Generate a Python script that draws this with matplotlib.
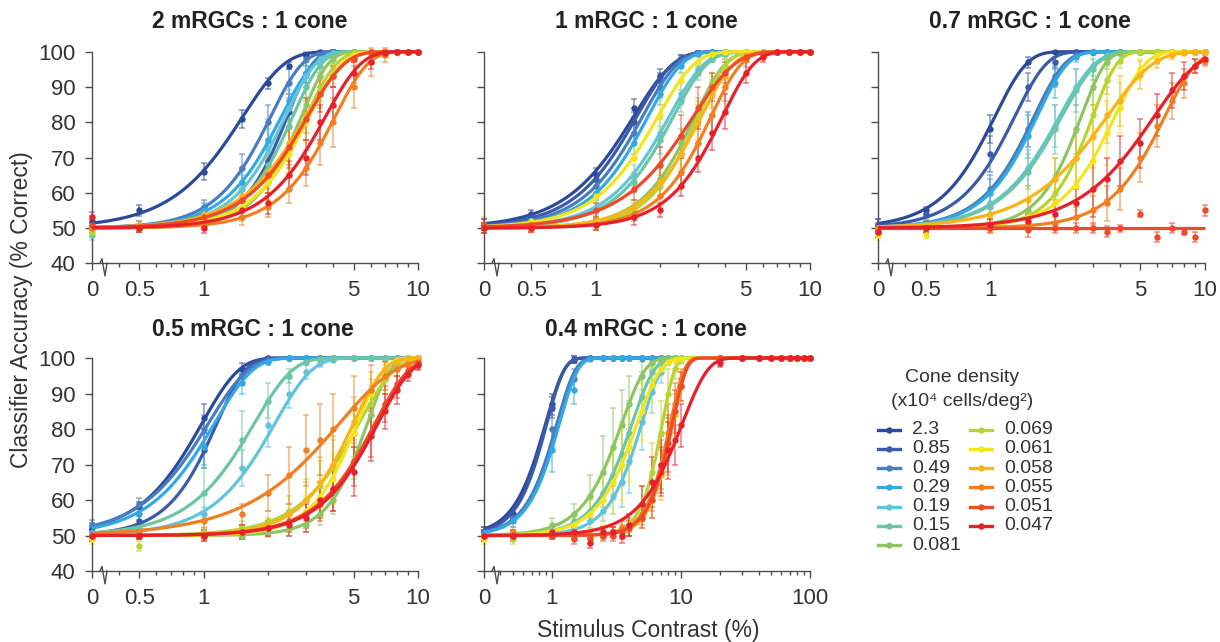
import numpy as np
import matplotlib
matplotlib.use("Agg")
import matplotlib.pyplot as plt
from matplotlib.lines import Line2D
from matplotlib.ticker import FixedLocator, FixedFormatter, LogLocator, NullFormatter

plt.rcParams['font.family'] = ['Liberation Sans', 'DejaVu Sans']

# ---------------- data ----------------
densities = ['2.3', '0.85', '0.49', '0.29', '0.19', '0.15', '0.081',
             '0.069', '0.061', '0.058', '0.055', '0.051', '0.047']
colors = ['#2c4a9a', '#3a5ba9', '#4a7cc1', '#33a9e1', '#62c4dc', '#6cc5a4', '#8dc663',
          '#b8d433', '#f3e51c', '#f9b418', '#f07f22', '#ec4a2a', '#e6212a']
titles = ['2 mRGCs : 1 cone', '1 mRGC : 1 cone', '0.7 mRGC : 1 cone',
          '0.5 mRGC : 1 cone', '0.4 mRGC : 1 cone']

contrast_lo = [0, 0.5, 1, 1.5, 2, 2.5, 3, 3.5, 4, 5, 6, 7, 8, 9, 10]
contrast_hi = [0, 0.5, 1, 1.5, 2, 2.5, 3, 3.5, 4, 5, 6, 7, 8, 9, 10,
               20, 30, 40, 50, 60, 70, 80, 90, 100]
xticks_lo = [0, 0.5, 1, 5, 10]
xticks_hi = [0, 1, 10, 100]
yticks = [40, 50, 60, 70, 80, 90, 100]

# Weibull fit parameters (threshold, slope) per panel, series order = densities
p1_alpha = [1.52, 2.45, 2.05, 2.3, 2.4, 2.6, 2.85, 3.0, 3.1, 3.0, 4.1, 3.05, 3.7]
p1_beta = [2.2, 3.6, 2.9, 2.8, 3.0, 3.2, 3.4, 3.0, 2.8, 2.4, 2.8, 2.5, 2.6]
p2_alpha = [1.5, 1.55, 1.65, 1.75, 2.2, 2.3, 2.9, 3.0, 1.95, 3.1, 3.45, 2.85, 3.9]
p2_beta = [2.3, 2.5, 2.6, 2.7, 2.6, 2.7, 3.0, 3.2, 2.5, 2.8, 3.0, 2.2, 2.9]
p3_alpha = [1.05, 1.3, 1.6, 1.65, 2.1, 2.15, 2.65, 3.0, 3.8, 3.5, 6.5, np.inf, 5.8]
p3_beta = [2.9, 2.9, 3.0, 3.0, 2.6, 2.6, 3.8, 3.8, 3.0, 2.0, 2.9, 3.0, 2.1]
p4_alpha = [0.98, 1.15, 1.05, 1.12, 2.15, 1.72, 5.8, 5.3, 5.2, 5.0, 4.3, 6.3, 6.5]
p4_beta = [2.5, 3.2, 2.3, 2.4, 2.5, 2.4, 4.0, 2.6, 3.5, 3.0, 1.65, 2.7, 2.7]
p5_alpha = [0.9, 0.92, 1.1, 1.15, 5.0, 4.2, 3.5, 7.2, 4.6, 8.7, 8.3, 8.6, 10.3]
p5_beta = [3.0, 3.2, 3.0, 3.0, 2.8, 2.5, 2.4, 4.5, 2.4, 4.2, 4.0, 4.0, 2.2]

# Classifier accuracy (% correct) at each contrast level
p1_acc = [
    [52, 55, 66, 81, 91, 96, 99, 100, 100, 100, 100, 100, 100, 100, 100],
    [50, 50, 52, 58, 69, 83, 94, 99, 100, 100, 100, 100, 100, 100, 100],
    [50, 51, 56, 67, 80, 91, 98, 99, 100, 100, 100, 100, 100, 100, 100],
    [50, 51, 55, 63, 75, 86, 94, 98, 99.5, 100, 100, 100, 100, 100, 100],
    [50, 50, 53, 61, 72, 84, 93, 98, 99.5, 100, 100, 100, 100, 100, 100],
    [48, 50, 52, 58, 68, 79, 90, 96, 99, 100, 100, 100, 100, 100, 100],
    [50, 50, 51, 55, 63, 74, 85, 93, 98, 100, 100, 100, 100, 100, 100],
    [49, 50, 52, 56, 63, 72, 82, 90, 95, 99.5, 100, 100, 100, 100, 100],
    [50, 50, 52, 56, 63, 71, 80, 88, 93, 99, 100, 100, 100, 100, 100],
    [50, 51, 54, 59, 66, 74, 82, 88, 93, 98, 100, 100, 100, 100, 100],
    [50, 50, 51, 53, 56, 61, 67, 74, 80, 90, 97, 99, 100, 100, 100],
    [51, 50, 53, 58, 65, 73, 81, 88, 93, 98, 100, 100, 100, 100, 100],
    [53, 50, 50, 55, 57, 65, 70, 80, 85, 94, 97, 99.5, 100, 100, 100],
]
p1_err = [
    [1.5, 1.5, 2.5, 2.5, 1.5, 1, 0.5, 0.3, 0.3, 0.3, 0.3, 0.3, 0.3, 0.3, 0.3],
    [1.5, 1, 1.5, 3, 5, 5, 3, 1, 0.5, 0.3, 0.3, 0.3, 0.3, 0.3, 0.3],
    [1.5, 1, 2, 4, 5, 4, 2, 1, 0.5, 0.3, 0.3, 0.3, 0.3, 0.3, 0.3],
    [1.5, 1, 2, 4, 6, 5, 3, 1.5, 0.5, 0.3, 0.3, 0.3, 0.3, 0.3, 0.3],
    [1.5, 1, 2, 4, 6, 5, 3, 1.5, 0.5, 0.3, 0.3, 0.3, 0.3, 0.3, 0.3],
    [1.5, 1, 1.5, 3, 5, 6, 4, 2, 1, 0.3, 0.3, 0.3, 0.3, 0.3, 0.3],
    [1.5, 1, 1.5, 3, 5, 6, 5, 3, 1.5, 0.3, 0.3, 0.3, 0.3, 0.3, 0.3],
    [1.5, 1, 1.5, 3, 5, 6, 5, 4, 2.5, 1, 0.3, 0.3, 0.3, 0.3, 0.3],
    [1.5, 1, 1.5, 3, 5, 6, 6, 4, 3, 1, 0.3, 0.3, 0.3, 0.3, 0.3],
    [1.5, 1, 2, 3, 5, 6, 5, 4, 3, 1, 0.3, 0.3, 0.3, 0.3, 0.3],
    [1.5, 1, 1, 2, 3, 4, 5, 6, 7, 6, 4, 2, 0.5, 0.3, 0.3],
    [1.5, 1, 2, 3, 5, 6, 6, 5, 3, 1, 0.3, 0.3, 0.3, 0.3, 0.3],
    [1.5, 1, 1.5, 2, 3, 4, 5, 5, 5, 3, 2, 1, 0.3, 0.3, 0.3],
]

p2_acc = [
    [51, 54, 65, 84, 93, 98, 99.6, 100, 100, 100, 100, 100, 100, 100, 100],
    [51, 53, 64, 80, 92, 98, 99.7, 100, 100, 100, 100, 100, 100, 100, 100],
    [50, 52, 62, 77, 90, 97, 99.5, 100, 100, 100, 100, 100, 100, 100, 100],
    [50, 52, 60, 74, 88, 96, 99.3, 100, 100, 100, 100, 100, 100, 100, 100],
    [50, 51, 56, 65, 77, 88, 95, 98, 99.4, 100, 100, 100, 100, 100, 100],
    [50, 51, 55, 63, 75, 86, 94, 98, 99.4, 100, 100, 100, 100, 100, 100],
    [50, 50, 52, 56, 64, 74, 83, 91, 96, 99.7, 100, 100, 100, 100, 100],
    [50, 50, 51, 55, 62, 71, 82, 90, 96, 99.7, 100, 100, 100, 100, 100],
    [51, 52, 59, 70, 82, 92, 97, 99.3, 100, 100, 100, 100, 100, 100, 100],
    [50, 50, 52, 56, 63, 71, 80, 88, 93, 99, 99.9, 100, 100, 100, 100],
    [50, 50, 51, 54, 59, 66, 74, 82, 90, 97.6, 99.7, 100, 100, 100, 100],
    [51, 51, 55, 61, 68, 76, 84, 90, 94, 98.4, 99.7, 100, 100, 100, 100],
    [50, 50, 51, 53, 55, 62, 70, 77, 83, 94, 98.5, 100, 100, 100, 100],
]
p2_err = [
    [1.5, 1, 2, 2.5, 2, 1, 0.5, 0.3, 0.3, 0.3, 0.3, 0.3, 0.3, 0.3, 0.3],
    [1.5, 1, 2, 3, 2, 1, 0.5, 0.3, 0.3, 0.3, 0.3, 0.3, 0.3, 0.3, 0.3],
    [1.5, 1, 2, 3, 3, 1.5, 0.5, 0.3, 0.3, 0.3, 0.3, 0.3, 0.3, 0.3, 0.3],
    [1.5, 1, 2, 3, 3, 2, 0.5, 0.3, 0.3, 0.3, 0.3, 0.3, 0.3, 0.3, 0.3],
    [1.5, 1, 2, 3, 4, 3, 2, 1, 0.5, 0.3, 0.3, 0.3, 0.3, 0.3, 0.3],
    [1.5, 1, 2, 3, 4, 3, 2, 1, 0.5, 0.3, 0.3, 0.3, 0.3, 0.3, 0.3],
    [1.5, 1, 1.5, 2, 3, 4, 4, 3, 2, 0.5, 0.3, 0.3, 0.3, 0.3, 0.3],
    [1.5, 1, 1.5, 2, 3, 4, 4, 3, 2, 0.5, 0.3, 0.3, 0.3, 0.3, 0.3],
    [2, 1, 2, 4, 4, 3, 1.5, 0.5, 0.3, 0.3, 0.3, 0.3, 0.3, 0.3, 0.3],
    [1.5, 1, 1.5, 2, 4, 5, 5, 4, 3, 1, 0.3, 0.3, 0.3, 0.3, 0.3],
    [1.5, 1, 1.5, 2, 3, 4, 5, 5, 4, 2, 0.5, 0.3, 0.3, 0.3, 0.3],
    [1.5, 1, 2, 3, 5, 6, 6, 4, 3, 1, 0.5, 0.3, 0.3, 0.3, 0.3],
    [1.5, 1, 1.5, 2, 2, 3, 4, 5, 5, 3, 1.5, 0.3, 0.3, 0.3, 0.3],
]

p3_acc = [
    [51, 55, 78, 97, 100, 100, 100, 100, 100, 100, 100, 100, 100, 100, 100],
    [51, 54, 71, 90, 97, 100, 100, 100, 100, 100, 100, 100, 100, 100, 100],
    [50, 51.5, 61, 78, 93, 99, 100, 100, 100, 100, 100, 100, 100, 100, 100],
    [50, 51, 60, 76, 91, 98.5, 99.8, 100, 100, 100, 100, 100, 100, 100, 100],
    [50, 51, 57, 67, 79, 90, 96, 99, 99.6, 100, 100, 100, 100, 100, 100],
    [50, 51, 56, 66, 78, 89, 95, 98.6, 99.5, 100, 100, 100, 100, 100, 100],
    [49, 50, 51, 55, 64, 78, 90, 97, 99.6, 100, 100, 100, 100, 100, 100],
    [50, 50, 51, 53.5, 60, 70, 82, 92, 97.5, 100, 100, 100, 100, 100, 100],
    [48, 48, 51, 53, 57, 62, 69, 77, 84, 95, 99, 99.9, 100, 100, 100],
    [50, 51, 54, 58, 64, 70, 76, 82, 86, 93.5, 97.4, 99, 99.7, 100, 100],
    [50, 50, 50, 51, 51.5, 53, 55, 57, 61, 70, 79, 86, 91, 96, 97.5],
    [49, 50, 50, 49.5, 50, 50, 50, 49, 50, 54, 47.5, 50, 49, 47.5, 55],
    [49, 50, 51, 52, 54, 57, 61, 64, 69, 74, 82, 89, 93, 96, 98],
]
p3_err = [
    [1.5, 1, 4, 1.5, 0.3, 0.3, 0.3, 0.3, 0.3, 0.3, 0.3, 0.3, 0.3, 0.3, 0.3],
    [1.5, 1, 5, 4, 1.5, 0.3, 0.3, 0.3, 0.3, 0.3, 0.3, 0.3, 0.3, 0.3, 0.3],
    [1.5, 1, 4, 5, 3, 1, 0.3, 0.3, 0.3, 0.3, 0.3, 0.3, 0.3, 0.3, 0.3],
    [1.5, 1, 4, 6, 4, 1.5, 0.5, 0.3, 0.3, 0.3, 0.3, 0.3, 0.3, 0.3, 0.3],
    [1.5, 1, 3, 5, 6, 5, 3, 1, 0.5, 0.3, 0.3, 0.3, 0.3, 0.3, 0.3],
    [1.5, 1, 3, 5, 7, 6, 3, 1, 0.5, 0.3, 0.3, 0.3, 0.3, 0.3, 0.3],
    [1.5, 1, 1.5, 3, 6, 7, 5, 2, 0.5, 0.3, 0.3, 0.3, 0.3, 0.3, 0.3],
    [1.5, 1, 1.5, 2, 5, 7, 7, 4, 2, 0.3, 0.3, 0.3, 0.3, 0.3, 0.3],
    [1.5, 1, 1.5, 2, 4, 7, 9, 9, 7, 3, 1, 0.5, 0.3, 0.3, 0.3],
    [1.5, 1.5, 2, 4, 6, 8, 9, 8, 7, 4, 2, 1, 0.5, 0.3, 0.3],
    [1.5, 1, 1, 1.5, 2, 3, 4, 5, 6, 7, 6, 5, 4, 2, 1.5],
    [1.5, 1.5, 1.5, 2, 1.5, 1.5, 1.5, 1.5, 1, 1, 1.5, 1.5, 1, 1.5, 1.5],
    [1.5, 1, 1.5, 2, 3, 4, 8, 6, 7, 7, 6, 5, 4, 2, 1.5],
]

p4_acc = [
    [52, 58, 83, 97, 100, 100, 100, 100, 100, 100, 100, 100, 100, 100, 100],
    [50, 54, 74, 95, 100, 100, 100, 100, 100, 100, 100, 100, 100, 100, 100],
    [53, 59, 80, 95, 99.4, 100, 100, 100, 100, 100, 100, 100, 100, 100, 100],
    [51, 56, 75, 93, 99, 100, 100, 100, 100, 100, 100, 100, 100, 100, 100],
    [50, 51, 56, 69, 81, 90, 96, 98.5, 99.5, 100, 100, 100, 100, 100, 100],
    [50, 52, 62, 77, 88, 95, 99, 99.7, 100, 100, 100, 100, 100, 100, 100],
    [50, 50, 50, 50, 51, 52, 53, 56, 60, 71, 84, 94, 98.7, 99.8, 100],
    [50, 47, 51, 52, 54, 57, 60, 64, 69, 79, 87, 94, 97, 99, 99.7],
    [49, 50, 50, 51, 52, 54, 57, 61, 66, 79, 90, 97, 99.4, 100, 100],
    [50, 50, 50, 51, 53, 56, 60, 65, 70, 82, 91, 97, 99, 99.9, 100],
    [50, 51, 54, 56, 62, 67, 74, 77, 80, 86, 91, 95, 97, 98.3, 99],
    [50, 50, 50, 51, 52, 54, 56, 59, 63, 71, 79, 87, 92.6, 96.4, 98.5],
    [50, 50, 50, 51, 52, 53, 55, 60, 63, 68, 78, 85, 91, 95.5, 98],
]
p4_err = [
    [1.5, 1.5, 4, 1.5, 0.3, 0.3, 0.3, 0.3, 0.3, 0.3, 0.3, 0.3, 0.3, 0.3, 0.3],
    [1.5, 1.5, 5, 2, 0.3, 0.3, 0.3, 0.3, 0.3, 0.3, 0.3, 0.3, 0.3, 0.3, 0.3],
    [1.5, 1.5, 4, 2, 0.5, 0.3, 0.3, 0.3, 0.3, 0.3, 0.3, 0.3, 0.3, 0.3, 0.3],
    [1.5, 1.5, 5, 3, 1, 0.3, 0.3, 0.3, 0.3, 0.3, 0.3, 0.3, 0.3, 0.3, 0.3],
    [1.5, 1, 2, 5, 6, 4, 2, 1, 0.5, 0.3, 0.3, 0.3, 0.3, 0.3, 0.3],
    [1.5, 1, 7, 8, 5, 2, 1, 0.5, 0.3, 0.3, 0.3, 0.3, 0.3, 0.3, 0.3],
    [1.5, 1, 1, 1, 1.5, 2, 2, 3, 4, 5, 6, 4, 1.5, 0.5, 0.3],
    [1.5, 1.5, 1.5, 2, 3, 4, 6, 7, 8, 7, 5, 3, 2, 1, 0.5],
    [1.5, 1, 1, 1.5, 2, 3, 4, 6, 7, 7, 4, 2, 0.5, 0.3, 0.3],
    [1.5, 1, 1, 1.5, 2, 3, 5, 7, 8, 7, 5, 2, 1, 0.5, 0.3],
    [1.5, 1.5, 2, 3, 5, 8, 10, 10, 10, 9, 7, 4, 2, 1.5, 1],
    [1.5, 1, 1.5, 2, 2, 3, 4, 5, 6, 7, 7, 5, 4, 2, 1.5],
    [1.5, 1, 1.5, 2, 2, 3, 4, 5, 6, 7, 7, 5, 4, 2, 1.5],
]

p5_acc = [
    [51, 56, 87, 99.5, 100, 100, 100, 100, 100, 100, 100, 100, 100, 100, 100,
     100, 100, 100, 100, 100, 100, 100, 100, 100],
    [51, 55, 86, 99.6, 100, 100, 100, 100, 100, 100, 100, 100, 100, 100, 100,
     100, 100, 100, 100, 100, 100, 100, 100, 100],
    [51, 55, 80, 94, 100, 100, 100, 100, 100, 100, 100, 100, 100, 100, 100,
     100, 100, 100, 100, 100, 100, 100, 100, 100],
    [50, 54, 74, 91, 99.7, 100, 100, 100, 100, 100, 100, 100, 100, 100, 100,
     100, 100, 100, 100, 100, 100, 100, 100, 100],
    [50, 50, 50, 52, 54, 57, 61, 65, 71, 82, 90.5, 96, 99, 99.7, 100,
     100, 100, 100, 100, 100, 100, 100, 100, 100],
    [50, 50, 51, 54, 57, 62, 67, 73, 79, 89, 96, 98.6, 99.5, 99.9, 100,
     100, 100, 100, 100, 100, 100, 100, 100, 100],
    [50, 50, 53, 56, 61, 68, 75, 81, 87, 95, 98.7, 99.7, 100, 100, 100,
     100, 100, 100, 100, 100, 100, 100, 100, 100],
    [50, 49, 50, 50, 50, 50, 51, 52, 53, 59, 68, 79, 90, 97, 99.4,
     100, 100, 100, 100, 100, 100, 100, 100, 100],
    [49, 50, 51, 53, 56, 60, 65, 70, 75, 85, 92.5, 97, 99, 99.5, 99.8,
     100, 100, 100, 100, 100, 100, 100, 100, 100],
    [50, 50, 50, 50, 50, 50, 51, 51, 52, 55, 60, 67, 75, 84, 92,
     100, 100, 100, 100, 100, 100, 100, 100, 100],
    [50, 51, 50, 50, 50, 51, 51, 52, 53, 56, 62, 70, 79, 87, 94,
     100, 100, 100, 100, 100, 100, 100, 100, 100],
    [50, 50, 50, 49, 49, 50, 50, 51, 52, 55, 60, 68, 76, 85, 92,
     100, 100, 100, 100, 100, 100, 100, 100, 100],
    [50, 50, 51, 51, 48, 51, 51, 50, 53, 59, 65, 70, 74, 77, 81,
     98.6, 100, 100, 100, 100, 100, 100, 100, 100],
]
p5_err = [
    [1.5, 1.5, 3, 1, 0.3, 0.3, 0.3, 0.3, 0.3, 0.3, 0.3, 0.3, 0.3, 0.3, 0.3,
     0.3, 0.3, 0.3, 0.3, 0.3, 0.3, 0.3, 0.3, 0.3],
    [1.5, 1.5, 3, 1, 0.3, 0.3, 0.3, 0.3, 0.3, 0.3, 0.3, 0.3, 0.3, 0.3, 0.3,
     0.3, 0.3, 0.3, 0.3, 0.3, 0.3, 0.3, 0.3, 0.3],
    [1.5, 1.5, 5, 3, 0.3, 0.3, 0.3, 0.3, 0.3, 0.3, 0.3, 0.3, 0.3, 0.3, 0.3,
     0.3, 0.3, 0.3, 0.3, 0.3, 0.3, 0.3, 0.3, 0.3],
    [1.5, 1.5, 6, 4, 0.5, 0.3, 0.3, 0.3, 0.3, 0.3, 0.3, 0.3, 0.3, 0.3, 0.3,
     0.3, 0.3, 0.3, 0.3, 0.3, 0.3, 0.3, 0.3, 0.3],
    [1.5, 1, 1, 1.5, 2, 3, 5, 7, 9, 8, 6, 3, 1, 0.5, 0.3,
     0.3, 0.3, 0.3, 0.3, 0.3, 0.3, 0.3, 0.3, 0.3],
    [1.5, 1, 1.5, 2, 3, 5, 7, 9, 9, 7, 3, 1, 0.5, 0.3, 0.3,
     0.3, 0.3, 0.3, 0.3, 0.3, 0.3, 0.3, 0.3, 0.3],
    [1.5, 1, 2, 3, 6, 10, 11, 10, 8, 4, 1.5, 0.5, 0.3, 0.3, 0.3,
     0.3, 0.3, 0.3, 0.3, 0.3, 0.3, 0.3, 0.3, 0.3],
    [1.5, 1.5, 1, 1, 1, 1, 1.5, 2, 3, 5, 8, 9, 7, 3, 1,
     0.3, 0.3, 0.3, 0.3, 0.3, 0.3, 0.3, 0.3, 0.3],
    [1.5, 1, 1.5, 2, 4, 7, 9, 10, 10, 8, 5, 2, 1, 0.5, 0.5,
     0.3, 0.3, 0.3, 0.3, 0.3, 0.3, 0.3, 0.3, 0.3],
    [1.5, 1, 1, 1, 1, 1, 1.5, 1.5, 2, 3, 5, 7, 8, 6, 4,
     0.3, 0.3, 0.3, 0.3, 0.3, 0.3, 0.3, 0.3, 0.3],
    [1.5, 1.5, 1, 1, 1, 1.5, 1.5, 2, 2, 3, 5, 7, 8, 6, 3,
     0.3, 0.3, 0.3, 0.3, 0.3, 0.3, 0.3, 0.3, 0.3],
    [1.5, 1.5, 1, 1.5, 1.5, 1.5, 1.5, 2, 2, 3, 5, 7, 8, 6, 4,
     0.3, 0.3, 0.3, 0.3, 0.3, 0.3, 0.3, 0.3, 0.3],
    [1.5, 1.5, 1.5, 1.5, 1.5, 1.5, 1.5, 2, 3, 5, 7, 8, 8, 7, 6,
     1, 0.3, 0.3, 0.3, 0.3, 0.3, 0.3, 0.3, 0.3],
]

# ---------------- layout / style ----------------
W, H = 1220, 642
X0 = 0.3            # position on the log axis where contrast "0" is drawn
TXT = '#333333'
AXC = '#4d4d4d'

fig = plt.figure(figsize=(W / 100, H / 100), dpi=100)


def rect(l, t, r, b):
    return [l / W, 1 - b / H, (r - l) / W, (b - t) / H]


panel_rects = [rect(92, 51.7, 418, 263.3), rect(484, 51.7, 810, 263.3),
               rect(878, 51.7, 1205, 263.3), rect(92, 358, 418, 571),
               rect(484, 358, 810, 571)]
title_pos = [(250, 22), (646, 22), (1030, 22), (253, 330), (646, 330)]
panels = [
    (p1_acc, p1_err, p1_alpha, p1_beta, contrast_lo, xticks_lo, 10, True),
    (p2_acc, p2_err, p2_alpha, p2_beta, contrast_lo, xticks_lo, 10, False),
    (p3_acc, p3_err, p3_alpha, p3_beta, contrast_lo, xticks_lo, 10, False),
    (p4_acc, p4_err, p4_alpha, p4_beta, contrast_lo, xticks_lo, 10, True),
    (p5_acc, p5_err, p5_alpha, p5_beta, contrast_hi, xticks_hi, 100, False),
]

for k, (acc, err, alpha, beta, contrast, xt, xmax, ylab) in enumerate(panels):
    ax = fig.add_axes(panel_rects[k])
    xpos = np.array([X0 if c == 0 else c for c in contrast], dtype=float)
    xs = np.geomspace(X0, xmax, 400)
    for i in range(len(densities)):
        col = colors[i]
        y = np.asarray(acc[i], dtype=float)
        e = np.asarray(err[i], dtype=float)
        cont = ax.errorbar(xpos, y, yerr=e, fmt='none', ecolor=col, elinewidth=1.1,
                           capsize=2.0, capthick=1.1, alpha=0.6, zorder=2 + i * 0.01)
        for a in cont.get_children():
            a.set_clip_on(False)
        fit = 100 - 50 * np.exp(-(xs / alpha[i]) ** beta[i])
        ax.plot(xs, fit, color=col, lw=2.3, clip_on=False, zorder=3 + i * 0.01,
                solid_capstyle='butt')
        ax.plot(xpos, y, 'o', color=col, ms=4.6, mew=0, clip_on=False,
                zorder=3.005 + i * 0.01)

    ax.set_xscale('log')
    ax.set_xlim(X0, xmax)
    ax.set_ylim(40, 100)
    for s in ('top', 'right'):
        ax.spines[s].set_visible(False)
    for s in ('left', 'bottom'):
        ax.spines[s].set_color(AXC)
        ax.spines[s].set_linewidth(1.0)
    major = [X0 if t == 0 else t for t in xt]
    ax.xaxis.set_major_locator(FixedLocator(major))
    ax.xaxis.set_major_formatter(FixedFormatter([f'{t:g}' for t in xt]))
    ax.xaxis.set_minor_locator(LogLocator(base=10, subs=np.arange(2, 10)))
    ax.xaxis.set_minor_formatter(NullFormatter())
    ax.set_yticks(yticks)
    ax.tick_params(axis='both', which='major', direction='out', length=5, width=1,
                   color=AXC, labelsize=16, labelcolor=TXT, pad=7)
    ax.tick_params(axis='x', which='minor', direction='out', length=3, width=1, color=AXC)
    if not ylab:
        ax.tick_params(axis='y', labelleft=False)
    # axis-break squiggle next to the "0" position
    ax.plot([8 / 326, 10 / 326, 13 / 326, 15 / 326], [40, 41.3, 36.4, 40],
            transform=ax.get_yaxis_transform(), color=AXC, lw=1.0, clip_on=False)
    tx, ty = title_pos[k]
    fig.text(tx / W, 1 - ty / H, titles[k], ha='center', va='center',
             fontsize=16.5, fontweight='bold', color='#222222')

fig.text(22 / W, 1 - 310 / H, 'Classifier Accuracy (% Correct)', rotation=90,
         ha='center', va='center', fontsize=16.5, color=TXT)
fig.text(648 / W, 1 - 631 / H, 'Stimulus Contrast (%)', ha='center', va='center',
         fontsize=16.5, color=TXT)

# ---------------- legend ----------------
fig.text(962 / W, 1 - 377 / H, 'Cone density', ha='center', va='center',
         fontsize=14, color=TXT)
fig.text(962 / W, 1 - 401 / H, '(x10\u2074 cells/deg\u00b2)', ha='center', va='center',
         fontsize=14, color=TXT)
for i, (d, c) in enumerate(zip(densities, colors)):
    colk, row = divmod(i, 7)
    yy = 1 - (429.5 + row * 19.3) / H
    x0 = 878 + colk * 92
    fig.add_artist(Line2D([x0 / W, (x0 + 22) / W], [yy, yy], transform=fig.transFigure,
                          color=c, lw=2.4))
    fig.add_artist(Line2D([(x0 + 11) / W], [yy], transform=fig.transFigure,
                          color=c, marker='o', ms=4.6, mew=0, lw=0))
    fig.text((x0 + 34) / W, yy, d, ha='left', va='center', fontsize=14, color=TXT)

fig.savefig('out.png', dpi=100)
